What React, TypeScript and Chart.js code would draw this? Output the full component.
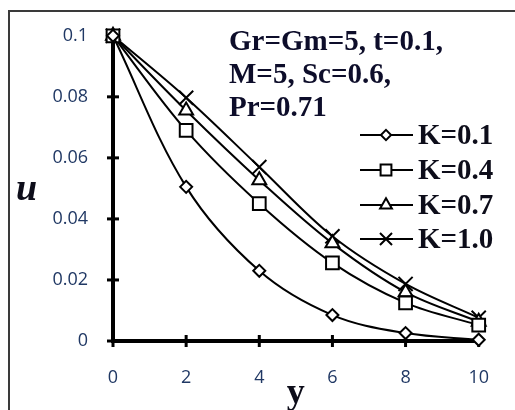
import React, { useEffect, useRef } from "react";
import { Chart, registerables } from "chart.js";

Chart.register(...registerables);

const yValues = [0, 2, 4, 6, 8, 10];
const seriesLabels = ["K=0.1", "K=0.4", "K=0.7", "K=1.0"];
const k01 = [0.1, 0.0505, 0.023, 0.0085, 0.0026, 0.0004];
const k04 = [0.1, 0.069, 0.045, 0.0256, 0.0125, 0.0052];
const k07 = [0.1, 0.0755, 0.0527, 0.032, 0.016, 0.0063];
const k10 = [0.1, 0.0797, 0.057, 0.0343, 0.0187, 0.0076];
const uTickLabels = ["0", "0.02", "0.04", "0.06", "0.08", "0.1"];
const xTickLabels = ["0", "2", "4", "6", "8", "10"];
const annotationLines = ["Gr=Gm=5, t=0.1,", "M=5, Sc=0.6,", "Pr=0.71"];

const markerStyles = ["rectRot", "rect", "triangle", "crossRot"];
const markerRadii = [6, 9, 8, 10];

function drawMarker(ctx: CanvasRenderingContext2D, style: string, r: number, x: number, y: number) {
  ctx.save();
  ctx.beginPath();
  if (style === "rectRot") {
    ctx.moveTo(x, y - r);
    ctx.lineTo(x + r, y);
    ctx.lineTo(x, y + r);
    ctx.lineTo(x - r, y);
    ctx.closePath();
    ctx.fill();
    ctx.stroke();
  } else if (style === "rect") {
    const s = Math.SQRT1_2 * r;
    ctx.rect(x - s, y - s, 2 * s, 2 * s);
    ctx.fill();
    ctx.stroke();
  } else if (style === "triangle") {
    ctx.moveTo(x, y - r);
    ctx.lineTo(x + r * 0.866, y + r * 0.5);
    ctx.lineTo(x - r * 0.866, y + r * 0.5);
    ctx.closePath();
    ctx.fill();
    ctx.stroke();
  } else {
    const d = r * Math.SQRT1_2;
    ctx.moveTo(x - d, y - d);
    ctx.lineTo(x + d, y + d);
    ctx.moveTo(x + d, y - d);
    ctx.lineTo(x - d, y + d);
    ctx.stroke();
  }
  ctx.restore();
}

const decorPlugin = {
  id: "decor",
  beforeDatasetsDraw(chart: any) {
    const ctx: CanvasRenderingContext2D = chart.ctx;
    const xs = chart.scales.x;
    const ys = chart.scales.y;
    const area = chart.chartArea;
    ctx.save();
    ctx.strokeStyle = "#000";
    ctx.lineWidth = 3;
    xs.ticks.forEach((t: any) => {
      const px = xs.getPixelForValue(t.value);
      ctx.beginPath();
      ctx.moveTo(px, area.bottom - 6);
      ctx.lineTo(px, area.bottom + 6);
      ctx.stroke();
    });
    ys.ticks.forEach((t: any) => {
      const py = ys.getPixelForValue(t.value);
      ctx.beginPath();
      ctx.moveTo(area.left - 6, py);
      ctx.lineTo(area.left + 6, py);
      ctx.stroke();
    });
    ctx.restore();
  },
  afterDraw(chart: any) {
    const ctx: CanvasRenderingContext2D = chart.ctx;
    ctx.save();
    // frame
    ctx.strokeStyle = "#3a3a3a";
    ctx.lineWidth = 2;
    ctx.strokeRect(9, 11, chart.width + 20, chart.height + 20);
    // annotation
    ctx.fillStyle = "#0d0d2a";
    ctx.font = "bold 29px 'Liberation Serif'";
    ctx.textBaseline = "alphabetic";
    ctx.textAlign = "left";
    annotationLines.forEach((line, i) => {
      ctx.fillText(line, 229, 50 + i * 33);
    });
    // legend
    const legendY = [135, 170, 205, 239];
    chart.data.datasets.forEach((ds: any, i: number) => {
      const y = legendY[i];
      ctx.strokeStyle = "#000";
      ctx.lineWidth = 2;
      ctx.beginPath();
      ctx.moveTo(360, y);
      ctx.lineTo(413, y);
      ctx.stroke();
      ctx.fillStyle = "#fff";
      ctx.lineWidth = 2;
      drawMarker(ctx, markerStyles[i], markerRadii[i] * 0.85, 386, y);
      ctx.fillStyle = "#0d0d1a";
      ctx.font = "bold 29px 'Liberation Serif'";
      ctx.textBaseline = "middle";
      ctx.fillText(ds.label, 418, y + 2);
    });
    // axis titles
    ctx.fillStyle = "#0d0d1a";
    ctx.textBaseline = "alphabetic";
    ctx.font = "italic bold 38px 'Liberation Serif'";
    ctx.textAlign = "left";
    ctx.fillText("u", 16, 200);
    ctx.font = "bold 36px 'Liberation Serif'";
    ctx.textAlign = "center";
    const xs = chart.scales.x;
    ctx.fillText("y", (xs.left + xs.right) / 2, 403);
    ctx.restore();
  },
};

export default function App() {
  const ref = useRef<HTMLCanvasElement>(null);
  useEffect(() => {
    document.body.style.margin = "0";
    document.body.style.overflow = "hidden";
    const seriesData = [k01, k04, k07, k10];
    const chart = new Chart(ref.current as HTMLCanvasElement, {
      type: "line",
      data: {
        datasets: seriesData.map((vals, i) => ({
          label: seriesLabels[i],
          data: yValues.map((x, j) => ({ x, y: vals[j] })),
          borderColor: "#000",
          borderWidth: 2,
          backgroundColor: "#fff",
          pointStyle: markerStyles[i] as any,
          pointRadius: markerRadii[i],
          pointBorderWidth: 2,
          pointBorderColor: "#000",
          pointBackgroundColor: "#fff",
          tension: 0.35,
          fill: false,
          clip: false as any,
        })),
      },
      options: {
        animation: false,
        responsive: false,
        devicePixelRatio: 1,
        layout: { padding: { left: 0, top: 32, right: 25, bottom: 0 } },
        plugins: { legend: { display: false }, tooltip: { enabled: false } },
        scales: {
          x: {
            type: "linear",
            min: 0,
            max: 10,
            afterFit: (s: any) => {
              s.height = 69;
            },
            ticks: {
              stepSize: 2,
              padding: 26,
              color: "#203864",
              font: { family: "'Open Sans'", size: 18 },
              callback: (_v: any, i: number) => xTickLabels[i],
            },
            grid: { display: false, drawTicks: false },
            border: { display: true, color: "#000", width: 4 },
          },
          y: {
            type: "linear",
            min: 0,
            max: 0.1,
            afterFit: (s: any) => {
              s.width = 113;
            },
            ticks: {
              stepSize: 0.02,
              padding: 25,
              color: "#203864",
              font: { family: "'Open Sans'", size: 18 },
              callback: (_v: any, i: number) => uTickLabels[i],
            },
            grid: { display: false, drawTicks: false },
            border: { display: true, color: "#000", width: 4 },
          },
        },
      },
      plugins: [decorPlugin],
    });
    return () => chart.destroy();
  }, []);
  return <canvas ref={ref} width={515} height={410} style={{ display: "block" }} />;
}
